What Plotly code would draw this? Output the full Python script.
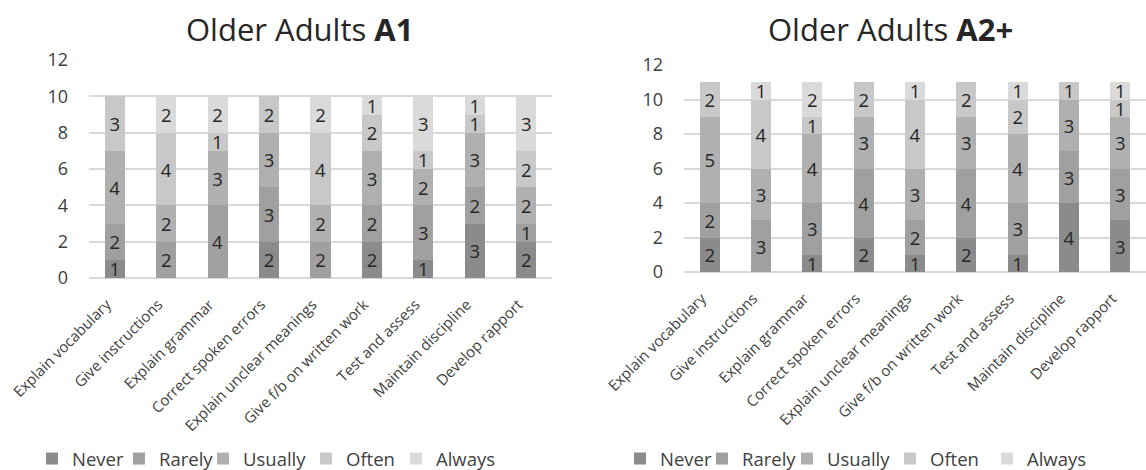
import plotly.graph_objects as go

categories = ["Explain vocabulary", "Give instructions", "Explain grammar",
              "Correct spoken errors", "Explain unclear meanings",
              "Give f/b on written work", "Test and assess",
              "Maintain discipline", "Develop rapport"]
series_names = ["Never", "Rarely", "Usually", "Often", "Always"]

# Older Adults A1
a1_never   = [1, 0, 0, 2, 0, 2, 1, 3, 2]
a1_rarely  = [2, 2, 4, 3, 2, 2, 3, 2, 1]
a1_usually = [4, 2, 3, 3, 2, 3, 2, 3, 2]
a1_often   = [3, 4, 1, 2, 4, 2, 1, 1, 2]
a1_always  = [0, 2, 2, 0, 2, 1, 3, 1, 3]

# Older Adults A2+
a2_never   = [2, 0, 1, 2, 1, 2, 1, 4, 3]
a2_rarely  = [2, 3, 3, 4, 2, 4, 3, 3, 3]
a2_usually = [5, 3, 4, 3, 3, 3, 4, 3, 3]
a2_often   = [2, 4, 1, 2, 4, 2, 2, 1, 1]
a2_always  = [0, 1, 2, 0, 1, 0, 1, 0, 1]

y_ticks = [0, 2, 4, 6, 8, 10, 12]

# styles
colors = ["#8b8b8b", "#a0a0a0", "#b0b0b0", "#c8c8c8", "#dadada"]
FONT = "Open Sans"
W, H = 1146, 470
# legend square centres (px) for each panel
legend_left_px = [57, 144, 228, 331, 421]
legend_right_px = [645, 727, 812, 915, 1012]
LEGEND_Y = 459


def px_x(p):
    return p / W


def px_y(p):
    return 1 - p / H


fig = go.Figure()
legend_layout = {}


def add_panel(series, xa, ya, legend_px, start_idx):
    for i, (name, vals, col) in enumerate(zip(series_names, series, colors)):
        lg_idx = start_idx + i
        lg_name = "legend" if lg_idx == 1 else f"legend{lg_idx}"
        fig.add_trace(go.Bar(
            x=categories, y=[v if v else None for v in vals], name=name,
            marker=dict(color=col, line=dict(width=0)),
            text=[str(v) if v else "" for v in vals],
            textposition="inside", insidetextanchor="middle",
            constraintext="none", textangle=0, showlegend=True,
            textfont=dict(family=FONT, size=18.5, color="#262626"),
            xaxis=xa, yaxis=ya, legend=lg_name, hoverinfo="skip",
        ))
        legend_layout[lg_name] = dict(
            orientation="h", x=px_x(legend_px[i] - 25), y=px_y(LEGEND_Y),
            xanchor="left", yanchor="middle", bgcolor="rgba(0,0,0,0)",
            font=dict(family=FONT, size=18.5, color="#404040"), itemwidth=30,
            visible=True,
        )


add_panel([a1_never, a1_rarely, a1_usually, a1_often, a1_always], "x", "y",
          legend_left_px, 1)
add_panel([a2_never, a2_rarely, a2_usually, a2_often, a2_always], "x2", "y2",
          legend_right_px, 6)

axis_common = dict(showgrid=False, showline=False, zeroline=False, ticks="",
                   tickangle=-45, tickfont=dict(family=FONT, size=15, color="#404040"),
                   ticklabelstandoff=14, ticklabelshift=-8,
                   automargin=False, fixedrange=True)
yaxis_common = dict(range=[0, 12], tickvals=y_ticks, showgrid=True, gridcolor="#d9d9d9",
                    gridwidth=1.5, zeroline=True, zerolinecolor="#d9d9d9", zerolinewidth=1.5,
                    showline=False, ticks="", tickfont=dict(family=FONT, size=18, color="#404040"),
                    ticklabelstandoff=20, automargin=False, fixedrange=True)

fig.update_layout(
    width=W, height=H, margin=dict(l=0, r=0, t=0, b=0, autoexpand=False),
    paper_bgcolor="white", plot_bgcolor="white", showlegend=True,
    barmode="stack", bargap=0.61,
    font=dict(family=FONT, color="#404040"),
    xaxis=dict(domain=[px_x(89), px_x(552)], anchor="y", **axis_common),
    yaxis=dict(domain=[px_y(278), px_y(60)], anchor="x", **yaxis_common),
    xaxis2=dict(domain=[px_x(684), px_x(1146)], anchor="y2", **axis_common),
    yaxis2=dict(domain=[px_y(272), px_y(65)], anchor="x2", **yaxis_common),
    annotations=[
        dict(text="Older Adults <b>A1</b>", x=px_x(299), y=px_y(29), xref="paper", yref="paper",
             showarrow=False, xanchor="center", yanchor="middle",
             font=dict(family=FONT, size=31, color="#262626")),
        dict(text="Older Adults <b>A2+</b>", x=px_x(890), y=px_y(29), xref="paper", yref="paper",
             showarrow=False, xanchor="center", yanchor="middle",
             font=dict(family=FONT, size=31, color="#262626")),
    ],
    **legend_layout,
)

fig.write_html("out.html", config={"displayModeBar": False},
               post_script="document.body.style.margin='0';")
